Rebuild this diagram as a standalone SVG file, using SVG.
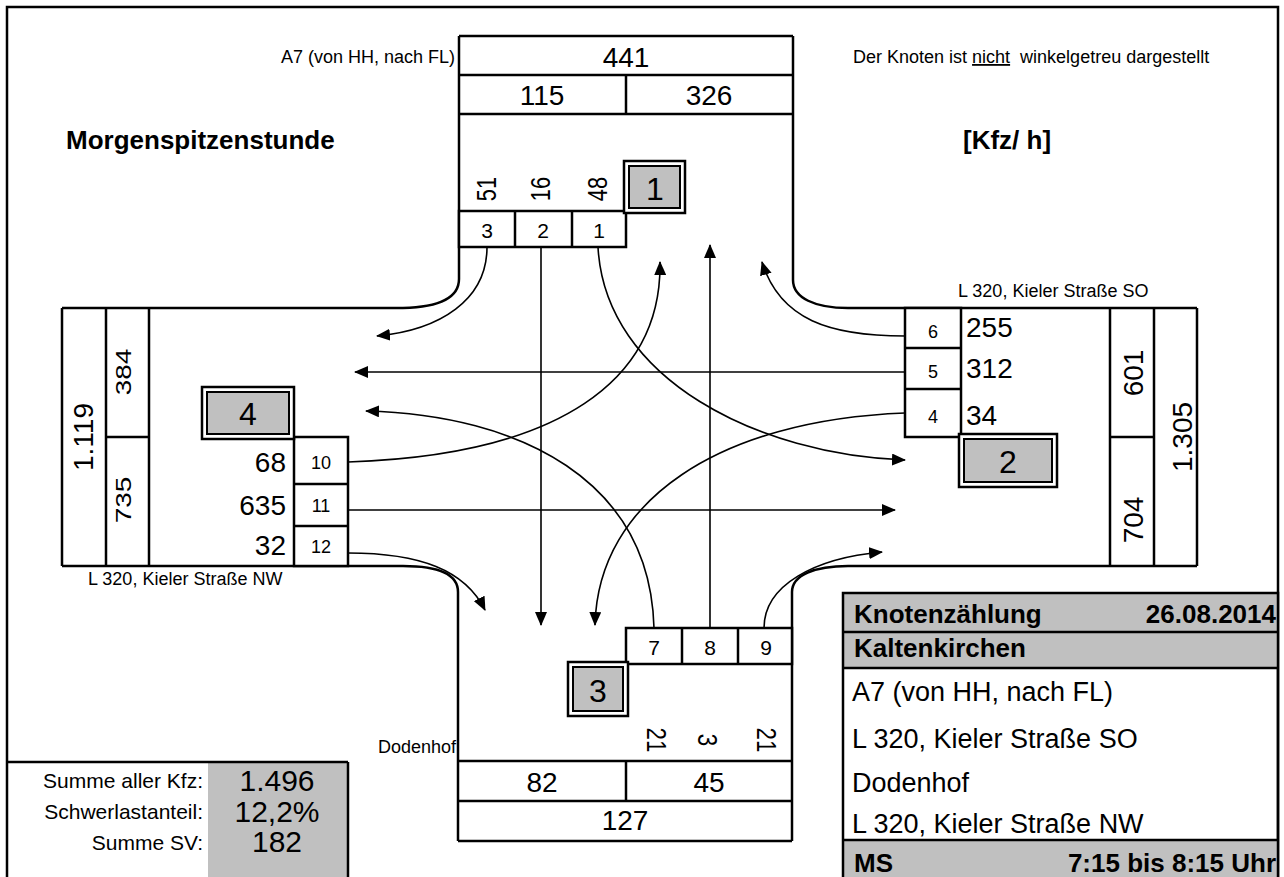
<svg xmlns="http://www.w3.org/2000/svg" width="1284" height="877" viewBox="0 0 1284 877">
<style>
text{font-family:"Liberation Sans",Arial,sans-serif;fill:#000}
.ln{stroke:#000;stroke-width:2.5;fill:none}
.bx{stroke:#000;stroke-width:2.5;fill:#fff}
.gr{fill:#c0c0c0}
.big{font-size:28px}
.lbl{font-size:18px}
.lane{font-size:21px;text-anchor:middle}
.lane2{font-size:18px;text-anchor:middle}
.mid{text-anchor:middle}
.end{text-anchor:end}
.bold{font-weight:bold}
.conn path{stroke:#000;stroke-width:1.6;fill:none;marker-end:url(#ah)}
</style>
<defs>
<marker id="ah" viewBox="0 0 14 12" refX="13" refY="6" markerWidth="14" markerHeight="12" markerUnits="userSpaceOnUse" orient="auto">
<path d="M0,0 L14,6 L0,12 z" fill="#000"/>
</marker>
</defs>
<rect x="0" y="0" width="1284" height="877" fill="#fff"/>
<rect x="7" y="7" width="1271" height="874" class="ln"/>

<!-- headings -->
<text x="66" y="149" class="bold" font-size="26">Morgenspitzenstunde</text>
<text x="963" y="149" class="bold" font-size="26">[Kfz/ h]</text>
<text x="455" y="63" class="lbl end">A7 (von HH, nach FL)</text>
<text x="853" y="63" class="lbl" xml:space="preserve">Der Knoten ist <tspan text-decoration="underline">nicht</tspan>  winkelgetreu dargestellt</text>
<text x="958" y="297" class="lbl">L 320, Kieler Straße SO</text>
<text x="88" y="585" class="lbl">L 320, Kieler Straße NW</text>
<text x="456" y="753" class="lbl end">Dodenhof</text>

<!-- top arm -->
<g id="arm-top">
<line x1="459" y1="36" x2="459" y2="279" class="ln"/>
<line x1="793" y1="36" x2="793" y2="280" class="ln"/>
<line x1="459" y1="36" x2="793" y2="36" class="ln"/>
<line x1="459" y1="75" x2="793" y2="75" class="ln"/>
<line x1="459" y1="114" x2="793" y2="114" class="ln"/>
<line x1="626" y1="75" x2="626" y2="114" class="ln"/>
<rect x="459" y="211" width="167" height="36" class="bx"/>
<line x1="515" y1="211" x2="515" y2="247" class="ln"/>
<line x1="572" y1="211" x2="572" y2="247" class="ln"/>
<text x="626" y="67" class="big mid">441</text>
<text x="542" y="105" class="big mid">115</text>
<text x="709" y="105" class="big mid">326</text>
<text class="big mid" transform="translate(496,189) rotate(-90) scale(0.78,1)">51</text>
<text class="big mid" transform="translate(550,189) rotate(-90) scale(0.78,1)">16</text>
<text class="big mid" transform="translate(607,189) rotate(-90) scale(0.78,1)">48</text>
<text x="487" y="238" class="lane">3</text>
<text x="543" y="238" class="lane">2</text>
<text x="599" y="238" class="lane">1</text>
<path d="M459,279 C459,298 440,307 403,308" class="ln"/>
<path d="M793,280 C793,298 815,308 848,308" class="ln"/>
</g>

<g id="node-1">
<rect x="624" y="161" width="61" height="52" class="bx"/>
<rect x="629" y="166" width="51" height="42" class="gr" stroke="#000" stroke-width="2"/>
<text x="655" y="200" class="mid" font-size="32">1</text>
</g>

<!-- right arm -->
<g id="arm-right">
<line x1="848" y1="308" x2="1197" y2="308" class="ln"/>
<line x1="848" y1="566" x2="1197" y2="566" class="ln"/>
<line x1="1110" y1="308" x2="1110" y2="566" class="ln"/>
<line x1="1154" y1="308" x2="1154" y2="566" class="ln"/>
<line x1="1197" y1="308" x2="1197" y2="566" class="ln"/>
<line x1="1110" y1="437" x2="1154" y2="437" class="ln"/>
<rect x="905" y="308" width="56" height="129" class="bx"/>
<line x1="905" y1="348" x2="961" y2="348" class="ln"/>
<line x1="905" y1="389" x2="961" y2="389" class="ln"/>
<text x="933" y="338" class="lane2">6</text>
<text x="933" y="378" class="lane2">5</text>
<text x="933" y="423" class="lane2">4</text>
<text x="966" y="337" class="big">255</text>
<text x="966" y="378" class="big">312</text>
<text x="966" y="425" class="big">34</text>
<text class="big mid" transform="translate(1143,373) rotate(-90)">601</text>
<text class="big mid" transform="translate(1143,520) rotate(-90)">704</text>
<text class="big mid" transform="translate(1192,437) rotate(-90)">1.305</text>
<path d="M848,566 C815,566 792,575 792,592" class="ln"/>
</g>

<g id="node-2">
<rect x="959" y="434" width="98" height="53" class="bx"/>
<rect x="964" y="439" width="88" height="43" class="gr" stroke="#000" stroke-width="2"/>
<text x="1008" y="473" class="mid" font-size="32">2</text>
</g>

<!-- left arm -->
<g id="arm-left">
<line x1="62" y1="308" x2="403" y2="308" class="ln"/>
<line x1="62" y1="566" x2="403" y2="566" class="ln"/>
<line x1="62" y1="308" x2="62" y2="566" class="ln"/>
<line x1="106" y1="308" x2="106" y2="566" class="ln"/>
<line x1="149" y1="308" x2="149" y2="566" class="ln"/>
<line x1="106" y1="437" x2="149" y2="437" class="ln"/>
<rect x="294" y="437" width="54" height="129" class="bx"/>
<line x1="294" y1="484" x2="348" y2="484" class="ln"/>
<line x1="294" y1="526" x2="348" y2="526" class="ln"/>
<text x="321" y="469" class="lane2">10</text>
<text x="321" y="512" class="lane2">11</text>
<text x="321" y="553" class="lane2">12</text>
<text x="286" y="472" class="big end">68</text>
<text x="286" y="515" class="big end">635</text>
<text x="286" y="555" class="big end">32</text>
<text class="big mid" transform="translate(93,437) rotate(-90)">1.119</text>
<text class="big mid" transform="translate(131,372) rotate(-90) scale(1,0.8)">384</text>
<text class="big mid" transform="translate(131,500) rotate(-90) scale(1,0.8)">735</text>
<path d="M403,566 C440,566 458,575 458,592" class="ln"/>
</g>

<g id="node-4">
<rect x="202" y="387" width="92" height="52" class="bx"/>
<rect x="207" y="392" width="82" height="42" class="gr" stroke="#000" stroke-width="2"/>
<text x="248" y="425" class="mid" font-size="32">4</text>
</g>

<!-- bottom arm -->
<g id="arm-bottom">
<line x1="458" y1="592" x2="458" y2="841" class="ln"/>
<line x1="792" y1="592" x2="792" y2="841" class="ln"/>
<line x1="458" y1="761" x2="792" y2="761" class="ln"/>
<line x1="458" y1="801" x2="792" y2="801" class="ln"/>
<line x1="458" y1="841" x2="792" y2="841" class="ln"/>
<line x1="626" y1="761" x2="626" y2="801" class="ln"/>
<rect x="626" y="628" width="166" height="36" class="bx"/>
<line x1="682" y1="628" x2="682" y2="664" class="ln"/>
<line x1="738" y1="628" x2="738" y2="664" class="ln"/>
<text x="654" y="655" class="lane">7</text>
<text x="710" y="655" class="lane">8</text>
<text x="766" y="655" class="lane">9</text>
<text class="big mid" transform="translate(647,740) rotate(90) scale(0.8,1)">21</text>
<text class="big mid" transform="translate(698,740) rotate(90) scale(0.8,1)">3</text>
<text class="big mid" transform="translate(757,740) rotate(90) scale(0.8,1)">21</text>
<text x="542" y="792" class="big mid">82</text>
<text x="709" y="792" class="big mid">45</text>
<text x="625" y="830" class="big mid">127</text>
</g>

<g id="node-3">
<rect x="568" y="662" width="60" height="54" class="bx"/>
<rect x="573" y="667" width="50" height="44" class="gr" stroke="#000" stroke-width="2"/>
<text x="598" y="702" class="mid" font-size="32">3</text>
</g>

<!-- connectors -->
<g id="connectors" class="conn">
<path d="M487,247 C487,300 440,330 377,336"/>
<path d="M541,247 L541,625"/>
<path d="M598,247 C605,380 760,455 905,460"/>
<path d="M905,336 C830,336 780,320 762,262"/>
<path d="M905,372 L355,372"/>
<path d="M905,413 C720,420 598,500 595,625"/>
<path d="M348,462 C560,455 662,380 660,262"/>
<path d="M348,510 L895,510"/>
<path d="M348,553 C420,553 465,570 485,610"/>
<path d="M654,628 C650,480 520,415 366,411"/>
<path d="M710,628 L710,245"/>
<path d="M764,628 C764,585 815,558 882,552"/>
</g>

<!-- summary -->
<g id="summary">
<rect x="208" y="762" width="140" height="118" class="gr"/>
<line x1="7" y1="762" x2="348" y2="762" class="ln"/>
<line x1="348" y1="762" x2="348" y2="880" class="ln"/>
<text x="203" y="788" class="end" font-size="21">Summe aller Kfz:</text>
<text x="203" y="819" class="end" font-size="21">Schwerlastanteil:</text>
<text x="203" y="850" class="end" font-size="21">Summe SV:</text>
<text x="277" y="791" class="mid" font-size="30">1.496</text>
<text x="277" y="822" class="mid" font-size="30">12,2%</text>
<text x="277" y="852" class="mid" font-size="30">182</text>
</g>

<!-- info table -->
<g id="info-table">
<rect x="843" y="593" width="435" height="75" class="gr"/>
<rect x="843" y="840" width="435" height="40" class="gr"/>
<rect x="843" y="593" width="435" height="290" class="ln"/>
<line x1="843" y1="632" x2="1278" y2="632" class="ln"/>
<line x1="843" y1="668" x2="1278" y2="668" class="ln"/>
<line x1="843" y1="840" x2="1278" y2="840" class="ln"/>
<text x="854" y="623" class="bold" font-size="26">Knotenzählung</text>
<text x="1276" y="623" class="bold end" font-size="26">26.08.2014</text>
<text x="854" y="657" class="bold" font-size="26">Kaltenkirchen</text>
<text x="852" y="701" font-size="27">A7 (von HH, nach FL)</text>
<text x="852" y="748" font-size="27">L 320, Kieler Straße SO</text>
<text x="852" y="792" font-size="27">Dodenhof</text>
<text x="852" y="833" font-size="27">L 320, Kieler Straße NW</text>
<text x="854" y="872" class="bold" font-size="26">MS</text>
<text x="1276" y="872" class="bold end" font-size="26">7:15 bis 8:15 Uhr</text>
</g>
</svg>
